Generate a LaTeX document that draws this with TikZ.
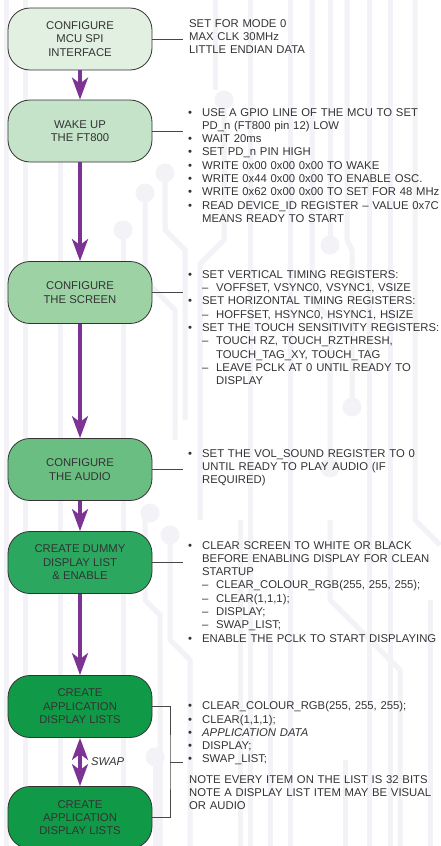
\documentclass[tikz,border=0pt]{standalone}
\usepackage{fontspec}
\setmainfont{Liberation Sans}
\usetikzlibrary{arrows.meta}
\hyphenpenalty=10000
\exhyphenpenalty=10000
\definecolor{cA}{HTML}{E2F0E2}
\definecolor{cB}{HTML}{C4E3C8}
\definecolor{cC}{HTML}{9CD2A4}
\definecolor{cD}{HTML}{6BBE82}
\definecolor{cE}{HTML}{2BA760}
\definecolor{cF}{HTML}{109A47}
\definecolor{flowc}{HTML}{7D3393}
\definecolor{txt}{HTML}{333333}
\definecolor{trace}{HTML}{F2F2F7}
\newcommand{\Bu}{\makebox[14pt][l]{\textbullet}}
\newcommand{\In}{\hspace*{14pt}}
\newcommand{\Da}{\hspace*{14pt}\makebox[14pt][l]{–}}
\newcommand{\Di}{\hspace*{28pt}}
\tikzset{
  stepbox/.style={draw=txt, line width=0.8pt, rounded corners=22pt, minimum width=144pt, minimum height=62pt, align=center, text=txt, inner sep=0pt, font=\fontsize{11.3}{13.4}\selectfont},
  desc/.style={anchor=base west, text width=320pt, align=left, inner sep=0pt, text=txt, font=\fontsize{11.3}{13.3}\selectfont},
  flow/.style={draw=flowc, line width=3.5pt, -{Stealth[length=22pt, width=16pt, inset=6pt]}},
  link/.style={draw=txt!90, line width=0.9pt},
  tr/.style={draw=trace, line width=5pt},
  pad/.style={fill=trace}
}
\begin{document}
\begin{tikzpicture}[x=1pt, y=-1pt]
\useasboundingbox (0,0) rectangle (440,846);
\fill[white] (0,0) rectangle (440,846);
% faint circuit background
\draw[tr] (6,0) -- (6,846);
\draw[tr] (25,0) -- (25,846);
\draw[tr] (60,150) -- (60,846);
\draw[tr] (165,173) -- (165,230) -- (185,250) -- (185,420);
\draw[tr] (145,193) -- (145,280) -- (175,310) -- (175,440);
\draw[tr] (123,230) -- (123,846);
\draw[tr] (145,513) -- (145,600) -- (160,615) -- (160,846);
\draw[tr] (170,535) -- (170,640) -- (190,660) -- (190,846);
\draw[tr] (155,757) -- (155,846);
\draw[tr] (215,0) -- (215,90);
\draw[tr] (224,100) -- (224,240) -- (200,264) -- (200,520);
\draw[tr] (250,0) -- (250,846);
\draw[tr] (290,0) -- (290,846);
\draw[tr] (312,0) -- (312,300) -- (330,318) -- (330,468);
\draw[tr] (330,245) -- (330,0);
\draw[tr] (347,0) -- (347,240) -- (352,250) -- (352,407);
\draw[tr] (369,0) -- (369,846);
\draw[tr] (390,0) -- (390,846);
\draw[tr] (415,0) -- (415,520) -- (440,545);
\draw[tr] (330,520) -- (330,600) -- (400,670) -- (400,846);
\draw[tr] (240,520) -- (240,846);
\draw[tr] (270,640) -- (270,846);
\draw[tr] (345,760) -- (345,846);
\draw[tr] (430,600) -- (430,846);
\foreach \p in {(165,173),(145,193),(123,230),(224,100),(330,245),(352,407),(330,468),(150,513),(170,535),(155,757)}
  \fill[pad] \p circle (9.5);
% boxes
\node[stepbox, fill=cA] (b1) at (80,39) {CONFIGURE\\MCU SPI\\INTERFACE};
\node[stepbox, fill=cB] (b2) at (80,131) {WAKE UP\\THE FT800};
\node[stepbox, fill=cC] (b3) at (80,292.5) {CONFIGURE\\THE SCREEN};
\node[stepbox, fill=cD] (b4) at (80,469.5) {CONFIGURE\\THE AUDIO};
\node[stepbox, fill=cE] (b5) at (80,562.5) {CREATE DUMMY\\DISPLAY LIST\\\& ENABLE};
\node[stepbox, fill=cF] (b6) at (80,706.5) {CREATE\\APPLICATION\\DISPLAY LISTS};
\node[stepbox, fill=cF] (b7) at (80,817.5) {CREATE\\APPLICATION\\DISPLAY LISTS};
% arrows
\draw[flow] (b1) -- (b2);
\draw[flow] (b2) -- (b3);
\draw[flow] (b3) -- (b4);
\draw[flow] (b4) -- (b5);
\draw[flow] (b5) -- (b6);
\draw[flow, {Stealth[length=22pt, width=16pt, inset=6pt]}-{Stealth[length=22pt, width=16pt, inset=6pt]}] (b6) -- (b7);
\node[anchor=west, inner sep=0pt, text=txt, font=\fontsize{11.3}{13.4}\selectfont\itshape] (swap) at (91,762) {SWAP};
% descriptions
\node[desc] (t1) at (189,27) {SET FOR MODE 0\\MAX CLK 30MHz\\LITTLE ENDIAN DATA};
\node[desc] (t2) at (188,116) {\Bu USE A GPIO LINE OF THE MCU TO SET\\\In PD\_n (FT800 pin 12) LOW\\\Bu WAIT 20ms\\\Bu SET PD\_n PIN HIGH\\\Bu WRITE 0x00 0x00 0x00 TO WAKE\\\Bu WRITE 0x44 0x00 0x00 TO ENABLE OSC.\\\Bu WRITE 0x62 0x00 0x00 TO SET FOR 48 MHz\\\Bu READ DEVICE\_ID REGISTER – VALUE 0x7C\\\In MEANS READY TO START};
\node[desc] (t3) at (188,278.3) {\Bu SET VERTICAL TIMING REGISTERS:\\\Da VOFFSET, VSYNC0, VSYNC1, VSIZE\\\Bu SET HORIZONTAL TIMING REGISTERS:\\\Da HOFFSET, HSYNC0, HSYNC1, HSIZE\\\Bu SET THE TOUCH SENSITIVITY REGISTERS:\\\Da TOUCH RZ, TOUCH\_RZTHRESH,\\\Di TOUCH\_TAG\_XY, TOUCH\_TAG\\\Da LEAVE PCLK AT 0 UNTIL READY TO\\\Di DISPLAY};
\node[desc] (t4) at (188,457.3) {\Bu SET THE VOL\_SOUND REGISTER TO 0\\\In UNTIL READY TO PLAY AUDIO (IF\\\In REQUIRED)};
\node[desc] (t5) at (188,549) {\Bu CLEAR SCREEN TO WHITE OR BLACK\\\In BEFORE ENABLING DISPLAY FOR CLEAN\\\In STARTUP\\\Da CLEAR\_COLOUR\_RGB(255, 255, 255);\\\Da CLEAR(1,1,1);\\\Da DISPLAY;\\\Da SWAP\_LIST;\\\Bu ENABLE THE PCLK TO START DISPLAYING};
\node[desc] (t6) at (188,709.7) {\Bu CLEAR\_COLOUR\_RGB(255, 255, 255);\\\Bu CLEAR(1,1,1);\\\Bu \textit{APPLICATION DATA}\\\Bu DISPLAY;\\\Bu SWAP\_LIST;};
\node[desc] (t7) at (189,783) {NOTE EVERY ITEM ON THE LIST IS 32 BITS\\NOTE A DISPLAY LIST ITEM MAY BE VISUAL\\OR AUDIO};
% links
\coordinate (e1) at (183,39);
\coordinate (e2) at (183,131);
\coordinate (e3) at (183,292.5);
\coordinate (e4) at (183,469.5);
\coordinate (e5) at (183,562.5);
\coordinate (j6) at (170,762.5);
\coordinate (e6) at (183,762.5);
\draw[link] (b1.east) -- (e1);
\draw[link] (b2.east) -- (e2);
\draw[link] (b3.east) -- (e3);
\draw[link] (b4.east) -- (e4);
\draw[link] (b5.east) -- (e5);
\draw[link] (b6.east) -| (j6) |- (b7.east);
\draw[link] (j6) -- (e6);
\end{tikzpicture}
\end{document}
